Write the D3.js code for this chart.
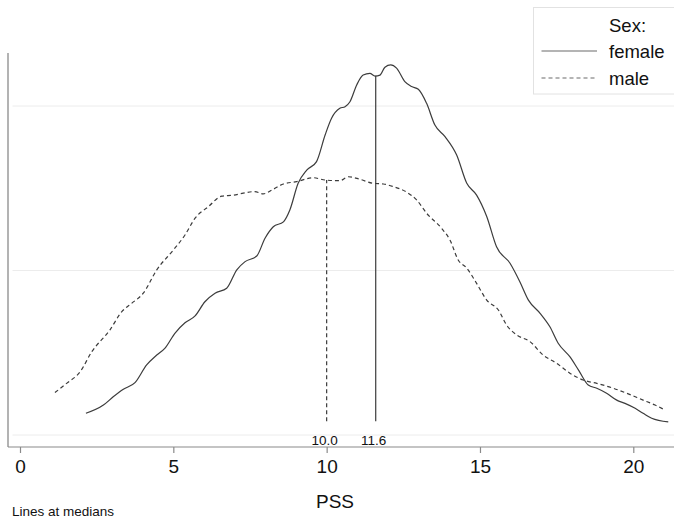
<!DOCTYPE html>
<html>
<head>
<meta charset="utf-8">
<script src="https://cdn.jsdelivr.net/npm/d3@7"></script>
<style>
  html, body { margin: 0; padding: 0; background: #fff; }
  svg { display: block; font-family: "Liberation Sans", Arial, sans-serif; }
</style>
</head>
<body>
<svg id="chart" width="674" height="519"></svg>
<script>
// ---- data (PSS score vs. kernel density) ----
const femalePSS = [2.15,2.72,3.04,3.37,3.75,4.13,4.46,4.73,5.05,5.38,5.71,6.03,6.36,6.74,7.07,7.34,7.72,7.99,8.26,8.59,8.80,9.07,9.35,9.67,9.95,10.16,10.43,10.60,10.76,10.98,11.19,11.41,11.58,11.74,11.90,12.09,12.28,12.55,12.77,12.99,13.26,13.53,13.86,14.24,14.57,14.89,15.22,15.54,15.98,16.30,16.58,16.96,17.28,17.55,17.93,18.21,18.53,18.81,19.13,19.46,19.73,20.06,20.32,20.60,21.14];
const femaleDensity = [0.0066,0.0091,0.0116,0.0139,0.0159,0.0213,0.0243,0.0264,0.0309,0.0341,0.0362,0.0405,0.0431,0.0446,0.0502,0.0527,0.0544,0.0598,0.0633,0.0648,0.0684,0.0765,0.0805,0.0831,0.0912,0.0963,0.0993,0.0998,0.1013,0.1064,0.1094,0.1099,0.1091,0.1094,0.1118,0.1125,0.1115,0.1074,0.1059,0.1051,0.1008,0.0942,0.0907,0.0851,0.0765,0.0729,0.0664,0.0572,0.0522,0.0466,0.0410,0.0370,0.0329,0.0279,0.0238,0.0198,0.0152,0.0142,0.0127,0.0106,0.0096,0.0081,0.0066,0.0051,0.0040];
const malePSS = [1.14,1.52,1.96,2.34,2.93,3.32,3.64,4.02,4.46,5.00,5.38,5.71,6.14,6.58,6.96,7.28,7.66,7.93,8.26,8.59,9.02,9.56,9.95,10.43,10.71,11.09,11.52,11.85,12.17,12.61,12.94,13.26,13.75,14.02,14.29,14.57,14.89,15.22,15.60,15.87,16.20,16.63,17.06,17.50,17.93,18.37,18.81,19.35,19.78,20.32,20.71,21.03];
const maleDensity = [0.0129,0.0157,0.0192,0.0253,0.0319,0.0375,0.0400,0.0431,0.0502,0.0562,0.0608,0.0659,0.0694,0.0726,0.0729,0.0735,0.0740,0.0733,0.0747,0.0763,0.0770,0.0782,0.0775,0.0773,0.0785,0.0777,0.0765,0.0763,0.0755,0.0738,0.0714,0.0674,0.0628,0.0593,0.0532,0.0507,0.0461,0.0410,0.0380,0.0334,0.0304,0.0284,0.0243,0.0218,0.0188,0.0167,0.0157,0.0142,0.0127,0.0106,0.0091,0.0076];
const seriesNames = ["female", "male"];
const medians = [11.6, 10.0];          // female, male
const medianLabels = ["11.6", "10.0"];
const medianTop = [0.1092, 0.0775];    // density of curve at median
const medianBase = 0.0042;
const xTicks = [0, 5, 10, 15, 20];
const yGrid = [0, 0.05, 0.1];
const legendTitle = "Sex:";
const xTitle = "PSS";
const note = "Lines at medians";

// ---- layout ----
const svg = d3.select("#chart");
const W = 674;
const plotLeft = 8, plotTop = 53, plotBottom = 447;
const x = d3.scaleLinear().domain([0, 20]).range([20, 633.3]);
const y = d3.scaleLinear().domain([0, 0.1]).range([435, 106]);
const lineColor = "#3c3c3c";
const dashes = [null, "4,3"];

// gridlines
svg.append("g").selectAll("line").data(yGrid).join("line")
  .attr("x1", 12.5).attr("x2", W)
  .attr("y1", d => y(d)).attr("y2", d => y(d))
  .attr("stroke", "#ececec").attr("stroke-width", 1);

// frame (left + bottom)
svg.append("line").attr("x1", plotLeft).attr("x2", plotLeft)
  .attr("y1", plotTop).attr("y2", plotBottom)
  .attr("stroke", "#9a9a9a").attr("stroke-width", 1.5);

// x axis
const xAxis = d3.axisBottom(x).tickValues(xTicks).tickFormat(d3.format("d")).tickSize(6).tickPadding(7);
const gx = svg.append("g").attr("transform", `translate(0,${plotBottom})`).call(xAxis);
gx.select(".domain").remove();
gx.selectAll(".tick line").attr("stroke", "#8a8a8a").attr("stroke-width", 1.2);
gx.selectAll(".tick text").attr("font-size", 19).attr("fill", "#111")
  .attr("font-family", "Liberation Sans, Arial, sans-serif");
svg.append("line").attr("x1", plotLeft).attr("x2", W)
  .attr("y1", plotBottom).attr("y2", plotBottom)
  .attr("stroke", "#8a8a8a").attr("stroke-width", 1.2);

// curves
const series = [
  femalePSS.map((v, i) => [v, femaleDensity[i]]),
  malePSS.map((v, i) => [v, maleDensity[i]])
];
const line = d3.line().x(d => x(d[0])).y(d => y(d[1])).curve(d3.curveMonotoneX);
svg.append("g").selectAll("path").data(series).join("path")
  .attr("d", line)
  .attr("fill", "none")
  .attr("stroke", lineColor)
  .attr("stroke-width", 1.2)
  .attr("stroke-dasharray", (d, i) => dashes[i]);

// median lines
svg.append("g").selectAll("line").data(medians).join("line")
  .attr("x1", d => x(d)).attr("x2", d => x(d))
  .attr("y1", y(medianBase)).attr("y2", (d, i) => y(medianTop[i]))
  .attr("stroke", lineColor).attr("stroke-width", 1.2)
  .attr("stroke-dasharray", (d, i) => dashes[i]);
svg.append("g").selectAll("text").data(medians).join("text")
  .attr("x", d => x(d) - 2).attr("y", 445)
  .attr("text-anchor", "middle").attr("font-size", 13.5).attr("fill", "#111")
  .text((d, i) => medianLabels[i]);

// legend
const lg = svg.append("g");
lg.append("rect").attr("x", 533.5).attr("y", 7.5).attr("width", 145).attr("height", 86.5)
  .attr("fill", "#fff").attr("stroke", "#e2e2e2").attr("stroke-width", 1);
lg.append("text").attr("x", 609).attr("y", 32).attr("font-size", 18.5).attr("fill", "#111").text(legendTitle);
seriesNames.forEach((name, i) => {
  const yy = 51 + i * 27;
  lg.append("line").attr("x1", 541.5).attr("x2", 597).attr("y1", yy).attr("y2", yy)
    .attr("stroke", "#6a6a6a").attr("stroke-width", 1.2).attr("stroke-dasharray", dashes[i]);
  lg.append("text").attr("x", 609).attr("y", yy + 7).attr("font-size", 18.5).attr("fill", "#111").text(name);
});

// titles
svg.append("text").attr("x", 335).attr("y", 508).attr("text-anchor", "middle")
  .attr("font-size", 19).attr("fill", "#111").text(xTitle);
svg.append("text").attr("x", 12).attr("y", 516).attr("font-size", 13.5).attr("fill", "#111").text(note);
</script>
</body>
</html>
